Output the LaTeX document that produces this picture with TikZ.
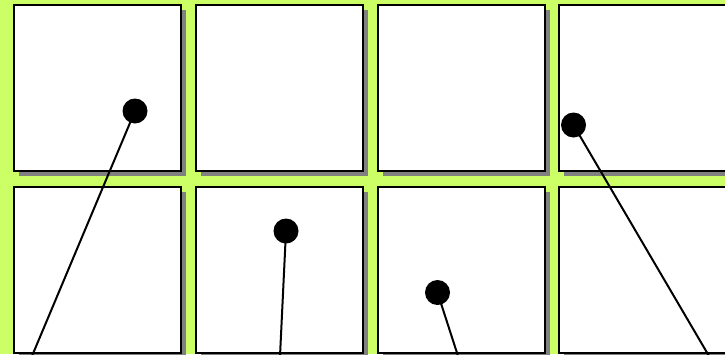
\documentclass[tikz,border=0pt]{standalone}
\usetikzlibrary{positioning}
\definecolor{bggreen}{RGB}{204,255,102}
\definecolor{shadowgray}{RGB}{128,128,128}
\tikzset{
  panel/.style={draw=black, line width=2pt, fill=white, minimum width=167pt, minimum height=166pt, inner sep=0pt, outer sep=0pt, anchor=north west},
  panelshadow/.style={fill=shadowgray, minimum width=167pt, minimum height=166pt, inner sep=0pt, anchor=north west},
  ball/.style={circle, fill=black, minimum size=25pt, inner sep=0pt},
  rod/.style={draw=black, line width=2pt}
}
\begin{document}
\begin{tikzpicture}[x=1pt, y=-1pt]
\useasboundingbox (0,0) rectangle (725,354);
\clip (0,0) rectangle (725,354);
\fill[bggreen] (0,0) rectangle (725,354);
% shadows
\foreach \cx/\i in {14/1,196/2,378/3,559/4}{
  \foreach \cy/\j in {5/1,187/2}{
    \node[panelshadow] (s\i\j) at (\cx+5,\cy+5) {};
  }
}
% panels
\foreach \cx/\i in {14/1,196/2,378/3,559/4}{
  \foreach \cy/\j in {5/1,187/2}{
    \node[panel] (p\i\j) at (\cx,\cy) {};
  }
}
% balls
\node[ball] (b1) at (135,111) {};
\node[ball] (b2) at (286,231) {};
\node[ball] (b3) at (437.5,292.5) {};
\node[ball] (b4) at (573.5,125) {};
% rod ends
\coordinate (e1) at (32,356);
\coordinate (e2) at (280,356);
\coordinate (e3) at (458,356);
\coordinate (e4) at (709,356);
\draw[rod] (b1.center) -- (e1);
\draw[rod] (b2.center) -- (e2);
\draw[rod] (b3.center) -- (e3);
\draw[rod] (b4.center) -- (e4);
\end{tikzpicture}
\end{document}
